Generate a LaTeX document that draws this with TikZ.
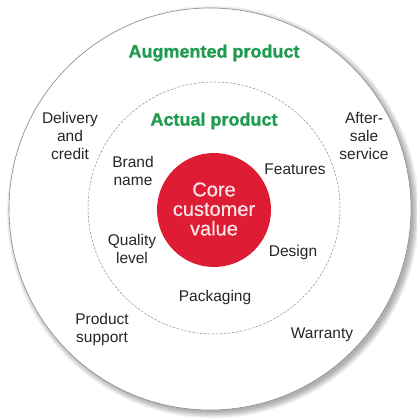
\documentclass[tikz,border=0pt]{standalone}
\usepackage{fontspec}
\setmainfont{Liberation Sans}
\newfontfamily\headfont[FakeBold=1.2]{Liberation Sans Bold}
\newfontfamily\corefont[FakeBold=0.6]{Liberation Sans}
\definecolor{aggreen}{RGB}{30,155,80}
\definecolor{corered}{RGB}{222,28,52}
\definecolor{coretext}{RGB}{252,228,232}
\begin{document}
\begin{tikzpicture}[x=1pt,y=-1pt,
  lbl/.style={font=\fontsize{15.5}{18}\selectfont, align=center, text=black!85, inner sep=0pt},
  head/.style={font=\fontsize{18}{20}\selectfont\headfont, text=aggreen, inner sep=0pt},
  corelbl/.style={font=\fontsize{20}{20}\selectfont\corefont, align=center, text=coretext, inner sep=0pt}]
\useasboundingbox (0,0) rectangle (416,419);
\fill[white] (0,0) rectangle (416,419);
% shadow
\foreach \i in {1,...,8}{
  \fill[black, opacity=0.045] (213,212) circle ({199+\i*0.9});
}
% outer circle
\node[circle, draw=black!45, line width=0.6pt, fill=white, minimum size=402pt, inner sep=0pt] (outer) at (210,209) {};
% inner dashed circle
\node[circle, draw=black!45, line width=0.5pt, dash pattern=on 2.5pt off 1.5pt, minimum size=252pt, inner sep=0pt] (inner) at (214,208) {};
% core
\node[circle, fill=corered, minimum size=114pt, inner sep=0pt] (core) at (214,210) {};
\node[corelbl] (coretxt) at (214,209) {Core\\[-0.5pt]customer\\[-0.5pt]value};
% headings
\node[head] (aug) at (214,53) {Augmented product};
\node[head] (act) at (214,121) {Actual product};
% augmented labels
\node[lbl] (deliv) at (70,136) {Delivery\\and\\credit};
\node[lbl] (after) at (364,136) {After-\\sale\\service};
\node[lbl] (supp) at (102,329) {Product\\support};
\node[lbl] (warr) at (322,335) {Warranty};
% actual labels
\node[lbl] (brand) at (133,171) {Brand\\name};
\node[lbl] (feat) at (295,169) {Features};
\node[lbl] (qual) at (132,249) {Quality\\level};
\node[lbl] (design) at (293,252) {Design};
\node[lbl] (pack) at (215,297) {Packaging};
\end{tikzpicture}
\end{document}
